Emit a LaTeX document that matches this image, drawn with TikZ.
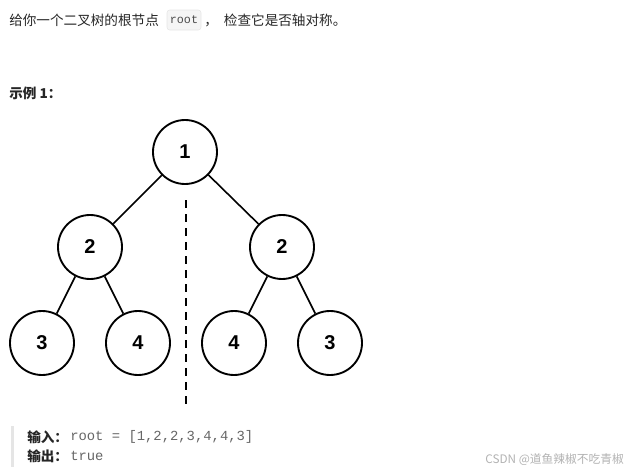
\documentclass[tikz,border=0pt]{standalone}
\usepackage{fontspec}
\setmainfont{Liberation Sans}
\setmonofont{Liberation Mono}
\newfontfamily\cjk{Noto Sans CJK SC}
\begin{document}
\begin{tikzpicture}[x=0.75pt,y=-0.75pt,
  treenode/.style={circle,draw,line width=1.4pt,minimum size=64*0.75pt,inner sep=0pt,font=\fontsize{15}{18}\selectfont\bfseries},
  edge/.style={line width=1.2pt},
  axis/.style={line width=2.2pt,dash pattern=on 6pt off 4.5pt},
  body/.style={anchor=west,inner sep=0pt,font=\cjk\fontsize{10.2}{12}\selectfont,text=black!85},
  code/.style={anchor=west,inner sep=0pt,font=\ttfamily\fontsize{10.4}{12}\selectfont,text=black!60}]
\useasboundingbox (0,0) rectangle (629,471);
% header text
\node[body] (t1) at (9,20) {给你一个二叉树的根节点};
\node[draw=black!10,fill=black!4,rounded corners=2pt,minimum width=34*0.75pt,minimum height=20*0.75pt,inner sep=0pt,font=\ttfamily\fontsize{8.8}{10}\selectfont,text=black!70] (rt) at (184,20) {root};
\node[body] (t2) at (204,20) {，\ \ 检查它是否轴对称。};
\node[body,font=\cjk\bfseries\fontsize{10.2}{12}\selectfont] (ex) at (9,93) {示例 1：};
% tree
\node[treenode] (n1) at (185,152) {1};
\node[treenode] (n2) at (90,247) {2};
\node[treenode] (n3) at (282,247) {2};
\node[treenode] (n4) at (42,343) {3};
\node[treenode] (n5) at (138,343) {4};
\node[treenode] (n6) at (234,343) {4};
\node[treenode] (n7) at (330,343) {3};
\draw[edge] (n1) -- (n2);
\draw[edge] (n1) -- (n3);
\draw[edge] (n2) -- (n4);
\draw[edge] (n2) -- (n5);
\draw[edge] (n3) -- (n6);
\draw[edge] (n3) -- (n7);
\coordinate (ax1) at (186,200);
\coordinate (ax2) at (186,409);
\draw[axis] (ax1) -- (ax2);
% example block
\fill[black!10] (11,426) rectangle (13.5,467);
\node[body,font=\cjk\bfseries\fontsize{10.2}{12}\selectfont] (in) at (27,437) {输入：};
\node[code] (inv) at (70,437) {root = [1,2,2,3,4,4,3]};
\node[body,font=\cjk\bfseries\fontsize{10.2}{12}\selectfont] (out) at (27,456) {输出：};
\node[code] (outv) at (70,456) {true};
% watermark
\node[anchor=east,inner sep=0pt,font=\cjk\fontsize{8.8}{10}\selectfont,text=black!30] (wm) at (624,460) {CSDN @道鱼辣椒不吃青椒};
\end{tikzpicture}
\end{document}
